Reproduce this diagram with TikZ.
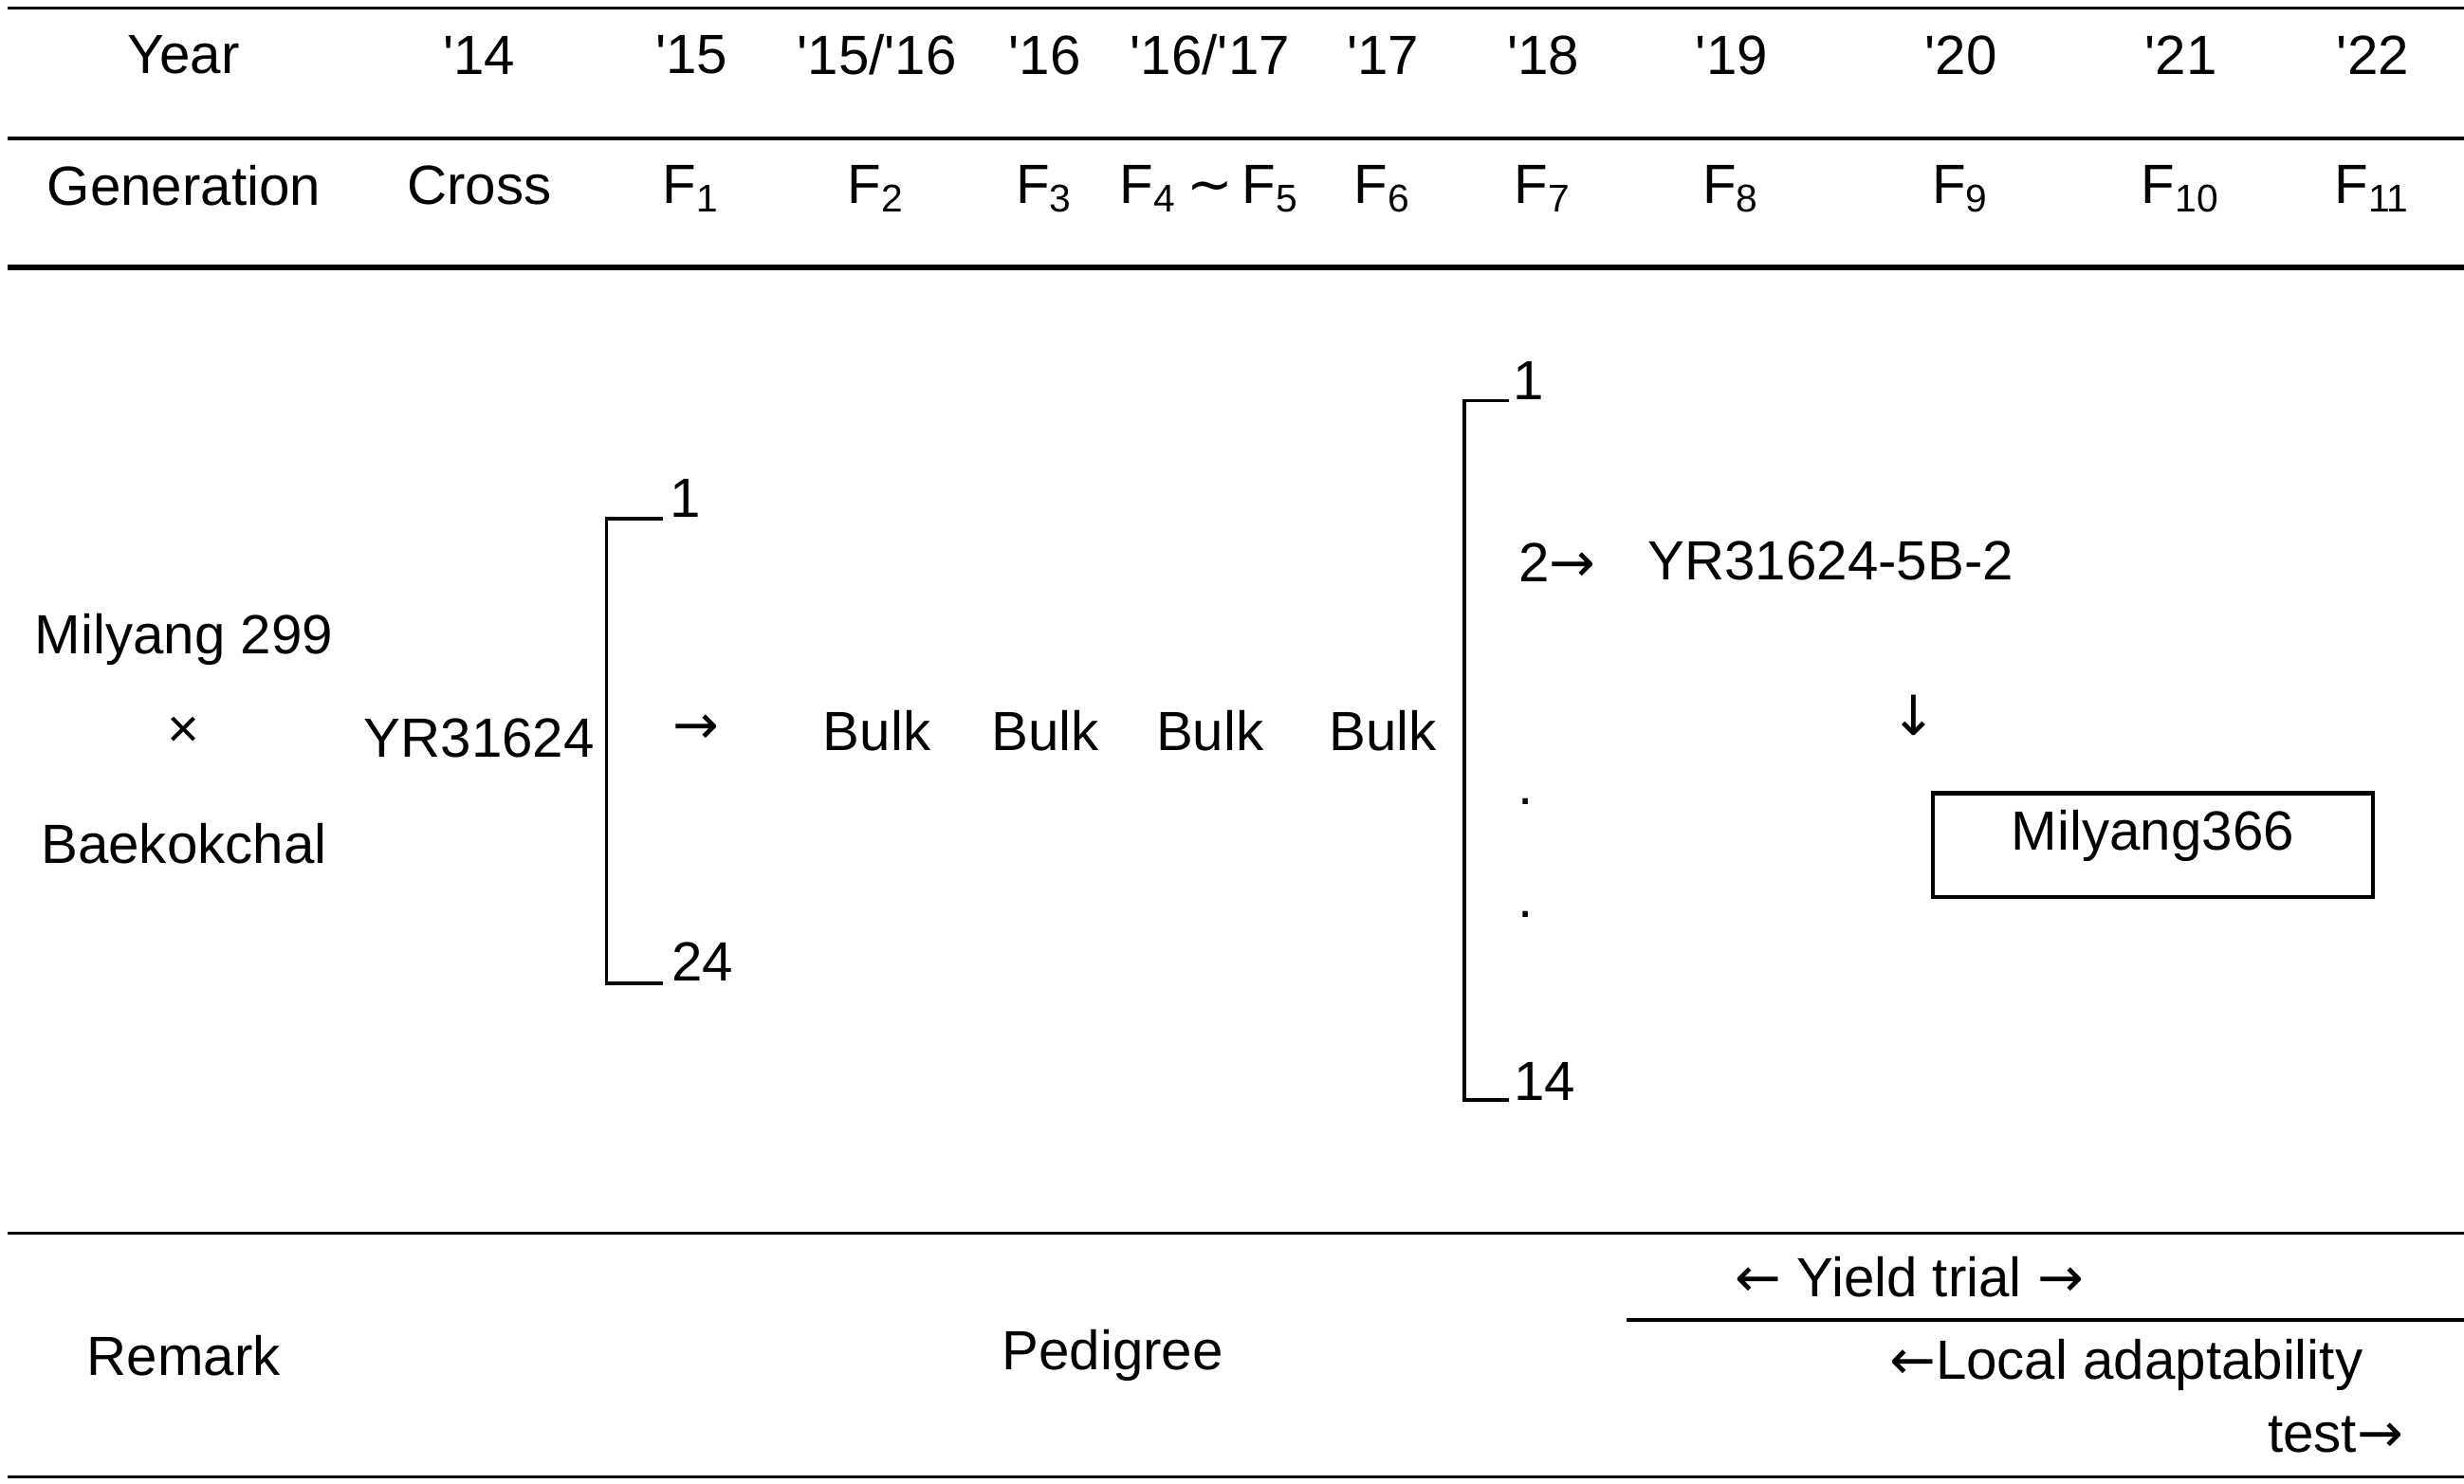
\documentclass[tikz,border=0pt]{standalone}
\usepackage{fontspec}
\setmainfont{Liberation Sans}
\newfontfamily\arr{DejaVu Sans}
\newcommand\ap{\textquotesingle}
\newcommand\Fs[1]{F\textsubscript{#1}}
\begin{document}
\begin{tikzpicture}[x=0.01cm,y=-0.01cm,
  t/.style={font=\fontsize{10}{12}\selectfont,inner sep=0pt,anchor=center},
  rule/.style={line width=0.6pt}]
\useasboundingbox (0,0) rectangle (1568,944);
\fill[white] (0,0) rectangle (1568,944);
\draw[rule] (5,5) -- (1568,5);
\draw[rule] (5,88) -- (1568,88);
\draw[line width=1pt] (5,170) -- (1568,170);
\draw[rule] (5,785) -- (1568,785);
\draw[rule] (1035,840) -- (1568,840);
\draw[rule] (5,940) -- (1568,940);
% header
\foreach \x/\s [count=\i] in {117/Year,305/\ap14,440/\ap15,558/{\ap15/\ap16},665/\ap16,770/{\ap16/\ap17},880/\ap17,982/\ap18,1102/\ap19,1248/\ap20,1388/\ap21,1510/\ap22}
  \node[t] (y\i) at (\x,35) {\s};
\node[t] (g1) at (117,118) {Generation};
\node[t] (g2) at (305,118) {Cross};
\node[t] (g3) at (440,120) {\Fs{1}};
\node[t] (g4) at (558,120) {\Fs{2}};
\node[t] (g5) at (665,120) {\Fs{3}};
\node[t] (g6) at (770,120) {\Fs{4}{\arr\,∼\,}\Fs{5}};
\node[t] (g7) at (880,120) {\Fs{6}};
\node[t] (g8) at (982,120) {\Fs{7}};
\node[t] (g9) at (1102,120) {\Fs{8}};
\node[t] (g10) at (1248,120) {\Fs{9}};
\node[t] (g11) at (1388,120) {\Fs{10}};
\node[t] (g12) at (1510,120) {\Fs{11}};
% body
\node[t] (p1) at (117,407) {Milyang 299};
\node[t] (px) at (117,466) {×};
\node[t] (p2) at (117,537) {Baekokchal};
\node[t] (cr) at (305,470) {YR31624};
\coordinate (b1t) at (422,330); \coordinate (b1b) at (422,626);
\draw[rule] (b1t) -- (386,330) -- (386,626) -- (b1b);
\node[t] (n1) at (436,317) {1};
\node[t] (n24) at (447,612) {24};
\node[t] (ar1) at (443,464) {\arr →};
\node[t] (bk1) at (558,465) {Bulk};
\node[t] (bk2) at (665,465) {Bulk};
\node[t] (bk3) at (770,465) {Bulk};
\node[t] (bk4) at (880,465) {Bulk};
\coordinate (b2t) at (960,255); \coordinate (b2b) at (960,700);
\draw[rule] (b2t) -- (932,255) -- (932,700) -- (b2b);
\node[t] (m1) at (973,242) {1};
\node[t] (m2) at (991,358) {2{\arr →}};
\node[t] (sel) at (1165,357) {YR31624-5B-2};
\node[t] (d1) at (971,510) {.};
\node[t] (d2) at (971,582) {.};
\node[t] (m14) at (983,688) {14};
\node[t] (ar2) at (1218,455) {\arr ↓};
\node[draw,line width=0.8pt,minimum width=2.8cm,minimum height=0.66cm,inner sep=0pt] (fin) at (1370,538) {};
\node[t] (fint) at (1370,532) {Milyang366};
% footer
\node[t] (rm) at (117,863) {Remark};
\node[t] (pd) at (708,863) {Pedigree};
\node[t] (yt) at (1215,813) {{\arr ←} Yield trial {\arr →}};
\node[t] (la) at (1353,869) {{\arr ←}Local adaptability};
\node[t,anchor=east] (la2) at (1530,913) {test{\arr →}};
\end{tikzpicture}
\end{document}
